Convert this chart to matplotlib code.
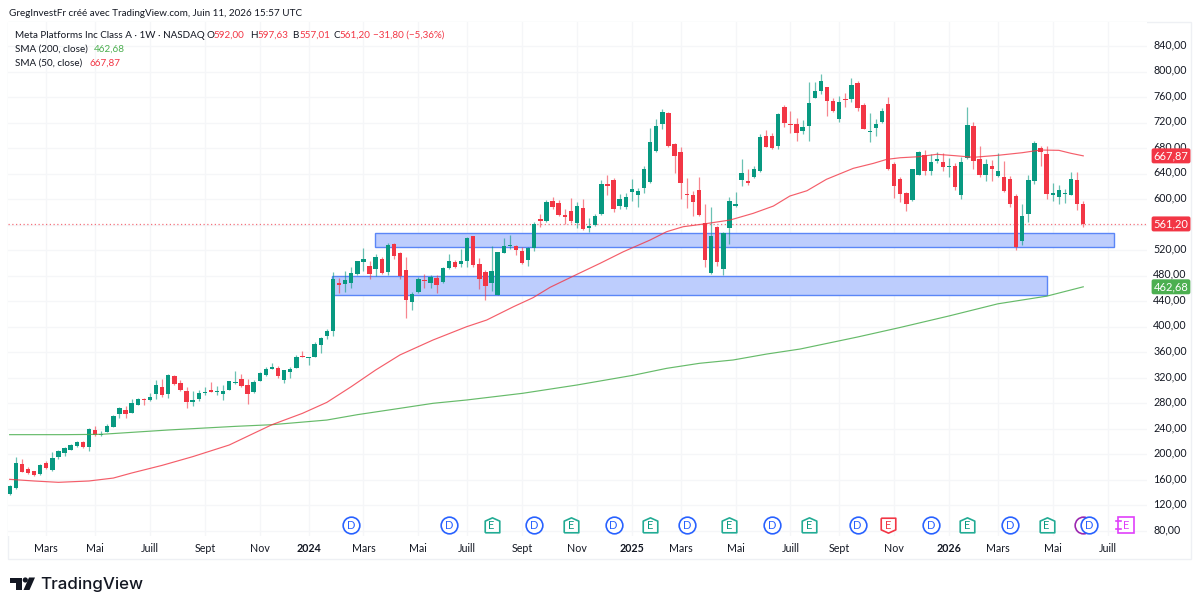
import numpy as np
import matplotlib
matplotlib.use("Agg")
import matplotlib.pyplot as plt
from matplotlib.patches import Rectangle, Polygon, Circle
from matplotlib.path import Path

plt.rcParams["font.family"] = ["Lato", "DejaVu Sans"]

# weekly candles, Feb 2023 -> Jun 2026
opens = [
    137.5, 147.9, 185.5, 177.7, 173.5, 169.3, 186.6, 175.6, 196.5, 202.8,
    207.5, 213.7, 219, 212.2, 237.8, 229.9, 235.1, 243.5, 263.9, 269.1,
    265.4, 277.4, 287.4, 284.8, 294.2, 306.2, 294.2, 322.9, 312.4, 299.9,
    281.6, 286.9, 296.8, 301, 297.3, 294.2, 301.5, 311.4, 317.7, 308.3,
    297.3, 315.6, 324.5, 333.9, 334.9, 316.1, 328.6, 336, 354.8, 350.6,
    353.2, 371.9, 386, 393.9, 469.1, 466.5, 468.1, 482.2, 502, 495.7,
    490, 505.7, 486.3, 529.7, 516.1, 489, 438.3, 453.9, 472.8, 468.6,
    476.4, 469.6, 492.1, 501, 498.4, 503.6, 541.7, 498.4, 485.3, 468.6,
    450.3, 516.1, 526, 526.5, 518.7, 504.6, 523.4, 568.3, 566.2, 597.6,
    593.4, 575.7, 580.9, 562.6, 586.1, 555.3, 560, 576.2, 623.7, 630,
    588.7, 587.7, 610.7, 606.5, 616.9, 626.3, 674.9, 717.7, 735.5, 685.9,
    673.3, 608, 606.5, 614.3, 563.1, 483.7, 556.3, 490.5, 554.3, 589.8,
    630, 628.4, 634.2, 644.1, 698.4, 699.4, 683.3, 743.8, 718.2, 717.2,
    706.2, 714.6, 759, 769.5, 775.2, 754.3, 725.6, 756.9, 756.9, 781.5,
    748, 704.7, 712, 720.4, 749.1, 655.5, 631, 609.1, 598.1, 638.3,
    669.1, 644, 660.2, 657.6, 650.3, 651.9, 606.4, 665, 714.6, 662.8,
    638.3, 652.4, 636.2, 634.1, 632, 604.9, 535, 576.7, 628.4, 680.6,
    670.2, 606.4, 603.3, 608.5, 607, 630, 592,
]
closes = [
    151.1, 186.1, 173, 170.4, 168.3, 184, 178.2, 194.4, 204.9, 210.6,
    214.8, 220, 211.6, 239.8, 231, 232.5, 245.1, 260.7, 272.2, 263.4,
    280.1, 287.4, 285.8, 290, 308.8, 293.1, 325, 309.8, 300.4, 281.6,
    284.8, 295.7, 297.8, 298.3, 298.3, 299.4, 314.5, 313, 306.7, 295.2,
    313.5, 328.1, 333.9, 337, 323.4, 331.8, 333.9, 353.2, 353.2, 351.6,
    373.6, 382.9, 393.4, 474.3, 466, 473.3, 483.7, 502.5, 505.7, 482.7,
    509.3, 483.7, 527.6, 510.9, 479.5, 441.9, 451.9, 475.4, 471.2, 477.5,
    464.9, 491.6, 503, 493.1, 503.6, 539.6, 497.3, 475.4, 463.9, 487.9,
    516.6, 527.1, 527.6, 520.3, 499.4, 523.4, 561, 565.7, 595.5, 588.2,
    575.1, 572, 565.7, 589.2, 553.2, 557.9, 573.6, 623.7, 620.1, 584.5,
    599.7, 603.9, 615.4, 612.2, 647.2, 689, 714.1, 736.5, 683.3, 668.1,
    625.3, 607, 595, 575.1, 504.1, 542.8, 501, 547, 596.6, 592.4,
    640.4, 625.8, 647.2, 697.4, 681.7, 680.6, 733.4, 718.8, 716.2, 704.1,
    712.5, 750.1, 768.9, 785.7, 753.8, 738.1, 752.2, 755.9, 778.3, 743.4,
    709.9, 706.3, 717.2, 738.1, 647.2, 621.1, 608.5, 592.9, 647.2, 673.8,
    643.5, 658.7, 662.8, 649.8, 652.4, 618.5, 658.7, 716.1, 660.2, 638.3,
    655.5, 646.7, 644, 612.7, 592.9, 524.4, 573.5, 629.4, 687.9, 673.8,
    607.5, 609.6, 613.7, 610.1, 631.5, 591.8, 561.2,
]
highs = [
    152, 196.5, 193.4, 180.8, 174.6, 185.5, 189.2, 204.3, 206.4, 212.2,
    215.8, 221, 220.5, 240.9, 244, 236.7, 248.2, 261.3, 273.8, 275.9,
    287.4, 288.4, 288.4, 296.8, 316.6, 318.2, 325.5, 325, 316.6, 306.2,
    299.4, 301, 306.2, 313, 307.2, 308.8, 315.6, 330.2, 325.5, 318.7,
    316.6, 328.6, 336.5, 342.7, 339.1, 332.8, 336.5, 355.3, 361.5, 353.2,
    376.2, 384, 396.5, 485.3, 475.9, 487.9, 493.1, 503.6, 522.9, 502.5,
    514, 509.8, 531.8, 531.8, 517.7, 508.8, 455, 477.5, 482.2, 481.1,
    481.1, 494.2, 513.5, 504.6, 521.9, 541.2, 542.2, 507.2, 488.9, 527.1,
    517.7, 539.6, 543.8, 527.6, 524.5, 525.5, 564.7, 576.7, 598.6, 602.8,
    598.6, 584.5, 601.3, 596, 600.2, 569.9, 576.7, 630, 637.8, 632.6,
    608, 609.1, 632.1, 616.9, 651.9, 710.9, 725.6, 741.2, 736.5, 688.5,
    681.2, 633.1, 613.3, 634.2, 592.4, 587.7, 557.4, 548, 603.9, 611.7,
    662.4, 646.7, 651.9, 702.1, 708.3, 703.1, 735.5, 748, 738.1, 727.1,
    723.5, 784.1, 783, 795.6, 775.7, 758, 761.1, 766.8, 790.4, 785.1,
    750.1, 735.5, 725.6, 742.3, 759.5, 658.7, 634.1, 610.6, 647.7, 675.4,
    676.9, 670.2, 673.3, 671.7, 664.9, 657.1, 665.5, 743.8, 721.3, 682.7,
    662.8, 661.3, 671.7, 659.7, 636.2, 608, 592.3, 637.8, 691, 683.2,
    683.2, 624.7, 622.1, 615.8, 642, 642, 597.63,
]
lows = [
    136.4, 145.8, 172, 168.8, 166.7, 168.3, 177.7, 174, 192.8, 198.1,
    206.4, 211.6, 209.5, 205.9, 228.4, 228.9, 234.6, 243, 257.6, 257.6,
    264.9, 276.9, 277.4, 284.2, 286.9, 290.5, 287.9, 309.3, 299.4, 273.3,
    275.4, 284.2, 292.6, 297.8, 293.1, 285.8, 301, 310.9, 306.2, 278.5,
    296.8, 314.5, 323.4, 333.3, 320.3, 312.4, 319.2, 334.9, 352.1, 339.6,
    352.1, 358.4, 380.8, 385.5, 452.4, 455, 461.3, 481.1, 487.4, 475.4,
    479.5, 482.7, 481.1, 505.7, 474.3, 414.3, 426.3, 452.9, 460.2, 460.2,
    453.4, 468.6, 490.5, 492.1, 494.2, 493.1, 493.6, 458.7, 441.9, 456,
    449.3, 515.1, 521.3, 513, 498.4, 495.2, 519.2, 555.8, 564.7, 584,
    573.6, 561, 562.1, 554.8, 551.6, 549, 557.4, 574.6, 606.5, 579.8,
    584, 584, 597.1, 588.2, 610.1, 624.8, 673.9, 709.9, 682.2, 641.5,
    599.7, 586.6, 573.6, 574.1, 493.7, 482.7, 495.2, 480.6, 529.7, 587.7,
    620.6, 622.7, 632.6, 642.5, 681.2, 679.1, 678.6, 713.5, 703.1, 691.6,
    702.1, 691.1, 758, 764.8, 730.8, 736, 721.4, 744.4, 752.7, 738.1,
    709.4, 690.1, 699.5, 719.8, 645.7, 601.2, 594.9, 581.4, 597.6, 637.2,
    637.8, 638.3, 656.6, 643.5, 635.2, 614.3, 599.6, 662.3, 646.7, 635.2,
    628.4, 628.9, 635.2, 610.6, 588.2, 520.3, 528.1, 564.6, 623.7, 652.4,
    600.2, 597.6, 592.3, 594.4, 605.9, 582.4, 557.01,
]

sma50_weeks = [0, 4, 8, 13, 17, 20, 25, 30, 36, 40, 43, 48, 52, 56, 60, 64,
               69.4, 74.9, 78.2, 82.6, 85.8, 88.6, 93, 96.8, 100.6, 105, 107.7,
               110.4, 113.7, 118.1, 121.9, 125.2, 127.9, 130.7, 133.9, 138.3,
               141.6, 143.8, 146, 149, 152, 155, 158, 162, 166, 169, 172, 174,
               176]
sma50_values = [161, 158.4, 156.3, 158.4, 163, 170.9, 182.9, 196.5, 214.8,
                233, 246.6, 264.4, 281.6, 306.2, 332.3, 356, 379.3, 400.1,
                410.6, 431.5, 445.6, 461.9, 482.2, 499.5, 517.6, 536, 549,
                556.8, 561, 567.3, 577.8, 589.2, 604.9, 613.2, 631.1, 648.3,
                656.1, 662.4, 664.9, 666.5, 670.3, 668.1, 665.6, 668.7, 672.8,
                677, 676.5, 671.8, 667.87]

sma200_weeks = [0, 9, 15, 26, 37, 43, 52, 57, 64, 69.4, 74.9, 84.1, 93, 102.2,
                107.7, 113.1, 118.6, 124.1, 129.6, 139, 146, 154, 162, 170, 176]
sma200_values = [231, 231, 231.5, 238.3, 244, 246.6, 253.9, 262.3, 272.3, 280.1,
                 285.3, 295.8, 308.8, 324, 334.9, 342.8, 348, 357.3, 365.2, 384,
                 399, 417, 436, 448, 462.68]

month_weeks = [6, 14, 23, 32, 41, 49, 58, 67, 75, 84, 93, 102, 110, 119, 128,
               136, 145, 154, 162, 171, 180]
month_labels = ["Mars", "Mai", "Juill", "Sept", "Nov", "2024", "Mars", "Mai",
                "Juill", "Sept", "Nov", "2025", "Mars", "Mai", "Juill", "Sept",
                "Nov", "2026", "Mars", "Mai", "Juill"]
price_ticks = list(range(80, 841, 40))

# supply / demand zones: (first week, last week, bottom, top)
zone_upper = (59.85, 181, 525.5, 546.5)
zone_lower = (52.9, 170.1, 450.3, 480)

dividend_weeks = [56, 72, 86, 99, 111, 125, 139, 151, 164, 177]
earnings_weeks = [79, 92, 105, 118, 131, 157, 170]
earnings_miss_week = 144
earnings_next_week = 183
split_week = 176

last_close = 561.20
last_sma50 = 667.87
last_sma200 = 462.68

UP = "#089981"
DOWN = "#f23645"
GREEN = "#4caf50"
BLUE = "#2962ff"
TEXT = "#131722"
GRID = "#f5f6f8"
W, H = 1200, 609
HEADER_FONT = 7.15
AXIS_FONT = 7.7


def px_text(fig, x, y, s, **kw):
    """Text placed with top-left image pixel coordinates."""
    kw.setdefault("fontsize", HEADER_FONT)
    kw.setdefault("color", TEXT)
    fig.text(x / W, 1 - y / H, s, va="center", **kw)


def draw_frame(fig):
    frame = Rectangle((8 / W, 1 - 559 / H), 1183 / W, 537 / H,
                      transform=fig.transFigure, fc="none", ec="#eef0f4",
                      lw=1, zorder=0)
    fig.add_artist(frame)


def draw_candles(ax):
    weeks = np.arange(len(opens))
    o, c = np.array(opens), np.array(closes)
    colors = np.where(c >= o, UP, DOWN)
    ax.vlines(weeks, lows, highs, colors=colors, lw=0.9, alpha=0.6, zorder=4)
    bottom = np.minimum(o, c)
    height = np.maximum(np.abs(c - o), 1.6)
    ax.bar(weeks, height, bottom=bottom, width=0.72, color=colors, lw=0,
           zorder=5)


def draw_zone(ax, zone):
    x0, x1, y0, y1 = zone
    ax.add_patch(Rectangle((x0, y0), x1 - x0, y1 - y0, fc="#bdcdfd",
                           ec="#5b86f7", lw=1.0, zorder=2))


def draw_events(ax):
    trans = ax.get_xaxis_transform()
    y = 0.0214

    def label(week, s, color):
        ax.text(week, y, s, transform=trans, ha="center", va="center",
                fontsize=8, color=color, zorder=8)

    ax.plot([split_week], [y], "o", transform=trans, ms=12, mfc="white",
            mec="#9c27b0", mew=1.2, zorder=6, clip_on=False)
    for week in dividend_weeks:
        ax.plot([week], [y], "o", transform=trans, ms=12, mfc="white",
                mec=BLUE, mew=1.2, zorder=7, clip_on=False)
        label(week, "D", BLUE)

    house = Path([(-1, -1), (1, -1), (1, 0.6), (0, 1.05), (-1, 0.6), (-1, -1)])
    for week in earnings_weeks:
        ax.plot([week], [y], marker=house, transform=trans, ms=11, mfc="white",
                mec="#22ab94", mew=1.2, zorder=7, clip_on=False)
        label(week, "E", UP)

    flipped = Path([(-1, 1), (1, 1), (1, -0.6), (0, -1.05), (-1, -0.6), (-1, 1)])
    ax.plot([earnings_miss_week], [y], marker=flipped, transform=trans, ms=11,
            mfc="white", mec=DOWN, mew=1.2, zorder=7, clip_on=False)
    label(earnings_miss_week, "E", DOWN)

    ax.plot([earnings_next_week], [y], "s", transform=trans, ms=11,
            mfc="white", mec="#e040fb", mew=1.2, zorder=7, clip_on=False)
    ax.plot([earnings_next_week - 1.6, earnings_next_week - 0.8], [y + 0.007] * 2,
            transform=trans, color="#e040fb", lw=1.2, zorder=8)
    ax.plot([earnings_next_week - 1.6, earnings_next_week - 0.8], [y - 0.007] * 2,
            transform=trans, color="#e040fb", lw=1.2, zorder=8)
    label(earnings_next_week, "E", "#e040fb")


def draw_price_labels(ax):
    # own labels so they can sit a pixel higher than the grid line
    for p in price_ticks:
        if p == 560:  # hidden by the last price tag
            continue
        ax.annotate(f"{p},00", xy=(1, p), xycoords=ax.get_yaxis_transform(),
                    xytext=(4.4, 1.0), textcoords="offset points", ha="left",
                    va="center", fontsize=AXIS_FONT, color=TEXT,
                    annotation_clip=False, zorder=9)


def draw_price_tag(ax, value, color):
    ax.text(1.0058, value, f"{value:.2f}".replace(".", ","),
            transform=ax.get_yaxis_transform(), ha="left", va="center",
            color="white", fontsize=AXIS_FONT + 0.3, clip_on=False, zorder=10,
            bbox=dict(boxstyle="round,pad=0.18", fc=color, ec="none"))


def draw_header(fig):
    px_text(fig, 9, 13, "GregInvestFr créé avec TradingView.com, Juin 11, 2026 15:57 UTC")
    px_text(fig, 15, 35, "Meta Platforms Inc Class A · 1W · NASDAQ")
    for x, s in [(207, "O"), (250, "H"), (292, "B"), (333, "C")]:
        px_text(fig, x, 35, s)
    for x, s in [(214, "592,00"), (257, "597,63"), (299, "557,01"),
                 (340, "561,20"), (373, "−31,80 (−5,36%)")]:
        px_text(fig, x, 35, s, color=DOWN)
    px_text(fig, 15, 49, "SMA (200, close)")
    px_text(fig, 94, 49, "462,68", color=GREEN)
    px_text(fig, 15, 63, "SMA (50, close)")
    px_text(fig, 89, 63, "667,87", color=DOWN)


def draw_logo(fig):
    def pts(coords):
        return [(x / W, 1 - y / H) for x, y in coords]

    ink = "#131722"
    fig.add_artist(Polygon(pts([(10, 577.5), (22, 577.5), (22, 590), (15.5, 590),
                                (15.5, 582.5), (10, 582.5)]),
                           transform=fig.transFigure, fc=ink, ec="none"))
    fig.add_artist(Polygon(pts([(29, 577.5), (35, 577.5), (29.5, 590), (23.5, 590)]),
                           transform=fig.transFigure, fc=ink, ec="none"))
    fig.add_artist(Circle((25.3, H - 580), 2.6, transform=None, fc=ink, ec="none"))
    fig.text(40 / W, 1 - 584 / H, "TradingView", fontfamily="Inter", fontsize=12.2,
             fontweight="medium", color=ink, va="center")


def main():
    fig = plt.figure(figsize=(W / 100, H / 100), dpi=100)
    ax = fig.add_axes([8 / W, 1 - 536 / H, 1139 / W, 514 / H])
    ax.set_xlim(-0.27, 186.45)
    ax.set_ylim(72.2, 877.6)

    ax.grid(True, color=GRID, lw=1)
    ax.set_axisbelow(True)
    for spine in ax.spines.values():
        spine.set_visible(False)

    ax.set_yticks(price_ticks)
    ax.set_yticklabels([])
    ax.set_xticks(month_weeks)
    ax.set_xticklabels(month_labels, fontsize=AXIS_FONT, color=TEXT)
    ax.tick_params(axis="both", length=0)
    ax.tick_params(axis="x", pad=4.8)
    for tick in ax.get_xticklabels():
        if tick.get_text().isdigit():
            tick.set_fontweight("bold")

    draw_zone(ax, zone_upper)
    draw_zone(ax, zone_lower)
    ax.axhline(last_close, color=DOWN, lw=0.9, ls=(0, (1, 2)), alpha=0.7, zorder=3)
    ax.plot(sma200_weeks, sma200_values, color=GREEN, lw=0.85, alpha=0.85, zorder=6)
    ax.plot(sma50_weeks, sma50_values, color=DOWN, lw=0.85, alpha=0.8, zorder=6)
    draw_candles(ax)
    draw_events(ax)

    draw_price_labels(ax)
    draw_price_tag(ax, last_sma50, DOWN)
    draw_price_tag(ax, last_close, DOWN)
    draw_price_tag(ax, last_sma200, GREEN)

    draw_frame(fig)
    draw_header(fig)
    draw_logo(fig)
    fig.savefig("out.png", dpi=100)


if __name__ == "__main__":
    main()
